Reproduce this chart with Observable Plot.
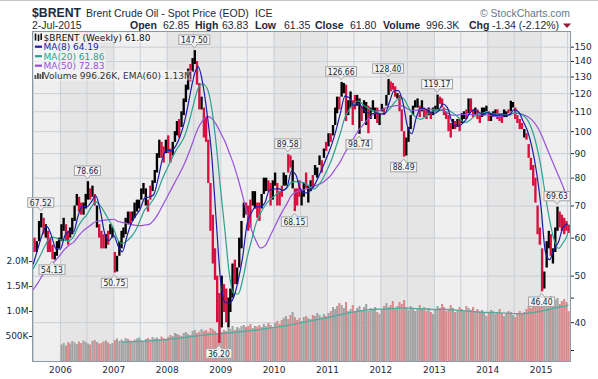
<!DOCTYPE html>
<html>
<head>
<meta charset="utf-8">
<script src="https://cdn.jsdelivr.net/npm/d3@7"></script>
<script src="https://cdn.jsdelivr.net/npm/@observablehq/plot@0.6"></script>
<style>
  html, body { margin: 0; padding: 0; background: #fff; }
  #chart { position: relative; width: 598px; height: 379px; overflow: hidden; }
  #chart > svg { position: absolute; left: 0; top: 0; }
</style>
</head>
<body>
<div id="chart"></div>
<script>
// ---------- DATA (half-month periods, Jul 2005 .. Jul 2015) ----------
const priceHigh = [
  60, 59, 65, 67.52, 66, 64, 62, 60, 58, 56, 59, 60,
  64, 66, 64, 62, 63, 66, 70, 74, 73, 71, 71, 74, 78.66, 76, 77, 74, 70, 64, 62, 61, 61, 62, 64, 63,
  56, 55, 59, 62, 63, 66, 68, 68, 68, 71, 72, 72, 76, 78, 76, 72, 77, 79, 83, 90, 96, 95, 93, 96,
  98, 92, 95, 100, 105, 106, 110, 117, 125, 135, 138, 142, 147.5, 140, 126, 118, 112, 107, 96, 78, 67, 57, 50, 46,
  50, 48, 47, 45, 47, 53, 54, 52, 60, 65, 71, 71, 70, 72, 75, 75, 71, 71, 74, 80, 80, 79, 78, 79,
  82, 78, 75, 77, 82, 81, 89.58, 89, 87, 76, 76, 79, 75, 78, 82, 77, 79, 81, 85, 84, 89, 87, 92, 95,
  99, 99, 103, 112, 118, 118, 126.66, 126, 125, 116, 121, 116, 119, 119, 117, 113, 116, 115, 113, 112, 116, 112, 112, 109,
  114, 112, 119, 128.4, 127, 126, 124, 120, 119, 111, 100, 97, 102, 108, 113, 116, 117, 113, 116, 112, 111, 112, 110, 112,
  113, 119.17, 118, 117, 112, 110, 108, 104, 106, 105, 106, 106, 109, 110, 111, 117, 117, 111, 112, 111, 108, 112, 112, 113,
  110, 109, 110, 111, 111, 109, 109, 111, 110, 111, 115.7, 115, 112, 108, 106, 104, 101, 99, 94, 88, 85, 80, 70, 63,
  57, 51, 59, 62, 61, 57, 63, 69.63, 68, 67, 66, 65, 63.83
];
const priceLow = [
  56, 56, 59, 63, 61, 60, 56, 56, 54.13, 54, 55, 57,
  59, 62, 59, 58, 60, 61, 65, 70, 68, 67, 67, 69, 72, 72, 73, 70, 63, 60, 57, 57, 57, 58, 61, 60,
  50.75, 51, 55, 57, 60, 61, 64, 64, 65, 66, 68, 69, 72, 74, 70, 68, 72, 75, 78, 82, 88, 88, 86, 90,
  90, 86, 89, 95, 98, 97, 102, 108, 115, 122, 127, 133, 138, 125, 111, 111, 97, 95, 78, 62, 53, 49, 40, 36.2,
  39, 42, 40, 39, 42, 45, 48, 48, 52, 57, 66, 67, 62, 63, 70, 69, 66, 65, 69, 74, 75, 75, 70, 72,
  77, 70, 70, 73, 77, 77, 82, 84, 76, 68.15, 70, 73, 70, 73, 76, 71, 75, 76, 81, 80, 85, 82, 88, 91,
  93, 95, 98, 103, 109, 111, 118, 120, 105, 108, 112, 103, 111, 113, 98.74, 105, 109, 103, 99, 106, 110, 106, 104, 103,
  110, 108, 113, 119, 121, 122, 118, 117, 110, 100, 88.49, 89, 95, 101, 108, 112, 112, 107, 110, 107, 106, 108, 106, 108,
  110, 111, 114, 112, 108, 106, 100, 97, 101, 101, 102, 100, 104, 106, 106, 109, 110, 107, 108, 106, 104, 107, 108, 110,
  105, 105, 107, 108, 106, 105, 104, 107, 107, 109, 110, 112, 106, 104, 101, 101, 97, 96, 88, 83, 77, 71, 61, 58,
  46.4, 47, 52, 57, 55, 53, 56, 62, 63, 62, 61, 62, 61.35
];
// u = up period (black), d = down period (red); one string per year
const priceDirByYear = [
  "duuududdduuu",
  "uudduuuudduuudududdduduu",
  "duuuuuuduuuuuuudduuuuddu",
  "dduuuduuuuduuddudddddddd",
  "udduuuduuuuddduudduuuddu",
  "uddduudduddduuduuduuudud",
  "uduuuduuduudduuduuduuudu",
  "uduuddduddduuuuuududdudu",
  "uuddddddududuududdudduuu",
  "duuuddduuduudddduddddddd",
  "duuuduuuddddd"
];
const priceDir = priceDirByYear.join("").split("");

// volume in thousands, half-month periods from Jan 2006
const volumeK = [
  330, 360, 310, 380, 350, 400, 370, 340, 390, 360, 410, 380, 350, 330, 400, 420, 380, 350, 360, 390, 410, 370, 340, 360,
  420, 450, 400, 430, 390, 460, 440, 410, 380, 430, 450, 470, 420, 400, 440, 460, 430, 480, 450, 470, 440, 490, 460, 430,
  480, 520, 500, 560, 540, 520, 500, 560, 580, 540, 520, 600, 620, 560, 590, 640, 600, 620, 580, 660, 640, 600, 560, 520,
  580, 620, 600, 660, 640, 700, 620, 680, 650, 700, 720, 680, 700, 740, 660, 700, 690, 720, 680, 740, 700, 760, 720, 680,
  760, 800, 740, 820, 860, 900, 840, 920, 980, 880, 820, 860, 800, 880, 900, 860, 840, 920, 900, 960, 920, 880, 940, 900,
  960, 1000, 1080, 1040, 1100, 1160, 1120, 1060, 1180, 1000, 1040, 1120, 980, 1060, 1100, 1020, 1080, 1140, 1000, 1060, 1020, 1080, 980, 940,
  1040, 1100, 1160, 1080, 1120, 1200, 1060, 1100, 1180, 1140, 1220, 1080, 1020, 1100, 1060, 1000, 1060, 1120, 1040, 1080, 1000, 1060, 980, 940,
  1040, 1100, 1060, 1140, 1080, 1000, 1040, 1120, 1060, 980, 1020, 1080, 1040, 1000, 1100, 1060, 1020, 1080, 1000, 1040, 980, 1020, 960, 900,
  960, 1020, 1000, 940, 980, 1040, 960, 900, 940, 1000, 980, 920, 880, 960, 1000, 940, 980, 1040, 1100, 1060, 1140, 1200, 1160, 1080,
  1200, 1280, 1160, 1240, 1300, 1180, 1220, 1260, 1140, 1200, 1240, 1180, 996
];

// moving averages, month ends Jun 2005 .. Jun 2015, then 2-Jul-2015
const ma8 = [
  53.0, 57.1, 61.2, 63.5, 60.8, 57.1, 56.9,
  60.7, 61.9, 61.8, 66.5, 70.0, 69.7, 71.4, 73.5, 68.6, 61.3, 59.3, 60.9,
  57.7, 56.2, 60.4, 64.4, 66.8, 68.9, 72.7, 73.1, 73.9, 79.8, 87.9, 91.5,
  91.3, 93.4, 98.2, 105.3, 117.1, 129.9, 136.6, 126.1, 109.0, 89.5, 66.1, 49.0,
  44.1, 43.9, 45.2, 48.9, 54.8, 64.2, 67.9, 69.7, 69.8, 71.2, 75.6, 75.9,
  76.1, 75.4, 76.7, 82.8, 81.1, 75.9, 74.5, 75.1, 77.1, 80.4, 84.4, 89.0,
  94.2, 100.5, 109.4, 118.6, 117.6, 113.2, 114.6, 111.7, 109.6, 109.1, 109.4, 108.8,
  109.2, 115.3, 121.7, 121.8, 115.1, 102.9, 99.0, 107.2, 112.0, 111.5, 109.9, 109.0,
  110.6, 114.2, 112.2, 105.2, 102.5, 103.3, 105.4, 109.2, 111.0, 109.9, 108.5, 109.6,
  108.8, 108.1, 108.5, 108.0, 108.5, 111.2, 110.0, 105.1, 100.3, 92.6, 82.6, 69.9,
  56.0, 54.1, 57.0, 58.9, 63.2, 64.2, 64.19
];
const ma20 = [
  51.9, 54.0, 56.4, 58.8, 60.3, 60.1, 59.5,
  59.4, 59.3, 60.4, 63.3, 65.5, 67.1, 69.6, 71.4, 70.1, 67.8, 65.3, 62.8,
  59.3, 58.5, 59.2, 60.4, 62.3, 65.4, 68.7, 70.3, 72.4, 75.5, 79.9, 83.7,
  87.6, 91.2, 94.3, 98.1, 105.2, 114.3, 123.2, 125.7, 123.1, 112.2, 94.7, 76.0,
  61.7, 50.8, 46.0, 45.9, 49.1, 54.5, 59.4, 64.5, 67.6, 70.1, 72.0, 73.3,
  74.7, 75.5, 76.3, 78.5, 78.7, 78.6, 78.1, 76.9, 75.9, 77.3, 79.8, 83.4,
  87.7, 92.9, 99.5, 106.9, 111.3, 114.2, 116.0, 113.9, 112.2, 110.9, 110.2, 109.0,
  109.4, 111.4, 114.7, 117.0, 117.5, 113.6, 109.3, 107.1, 106.1, 107.4, 109.8, 110.5,
  110.5, 111.4, 111.2, 109.7, 108.1, 105.9, 104.5, 105.6, 107.5, 108.7, 109.4, 109.9,
  109.0, 108.8, 108.7, 108.4, 108.3, 109.4, 109.2, 108.1, 105.8, 100.9, 93.8, 84.5,
  73.4, 65.5, 59.5, 57.1, 58.7, 61.0, 61.86
];
const ma50 = [
  46.9, 48.4, 50.2, 51.7, 52.8, 54.0, 55.4,
  56.9, 58.0, 58.8, 60.4, 61.9, 63.0, 64.0, 65.0, 65.2, 65.4, 65.6, 65.7,
  65.0, 64.7, 64.4, 64.0, 63.8, 63.7, 63.9, 64.1, 65.3, 67.4, 70.1, 73.0,
  76.1, 79.1, 82.3, 86.0, 90.8, 96.2, 101.8, 105.5, 107.6, 106.7, 103.7, 99.5,
  95.3, 90.5, 85.4, 79.7, 73.5, 67.7, 62.4, 59.2, 57.2, 57.8, 60.2, 62.9,
  65.8, 68.3, 70.9, 73.7, 74.8, 75.4, 75.8, 76.3, 77.0, 77.6, 78.4, 79.8,
  81.6, 84.0, 86.7, 90.3, 93.6, 96.9, 100.5, 103.2, 105.8, 107.9, 109.8, 110.9,
  111.9, 112.7, 113.2, 113.4, 113.2, 111.6, 110.7, 110.9, 111.2, 111.3, 111.3, 111.3,
  111.0, 110.6, 109.4, 108.3, 108.2, 108.6, 108.7, 108.6, 108.5, 108.4, 108.3, 108.4,
  107.8, 107.5, 107.7, 108.2, 108.7, 109.3, 109.2, 108.5, 107.5, 105.7, 103.0, 99.0,
  93.9, 89.5, 85.0, 80.9, 76.9, 72.8, 72.83
];
// volume EMA(60) in thousands, month ends Feb 2007 .. Jun 2015, then 2-Jul-2015
const volEmaK = [
  390, 392, 395, 398, 402, 406, 412, 418, 425, 432, 440,
  450, 460, 470, 482, 494, 505, 515, 525, 535, 545, 552, 558,
  565, 572, 580, 590, 600, 610, 620, 630, 642, 655, 668, 680,
  692, 705, 720, 738, 755, 772, 790, 808, 825, 842, 858, 875,
  895, 915, 935, 955, 975, 990, 1005, 1020, 1032, 1040, 1045, 1048,
  1050, 1055, 1062, 1068, 1070, 1068, 1062, 1058, 1055, 1050, 1045, 1040,
  1040, 1042, 1040, 1035, 1028, 1020, 1012, 1005, 998, 990, 985, 980,
  978, 975, 972, 968, 962, 958, 955, 958, 965, 975, 990, 1005,
  1025, 1045, 1065, 1085, 1100, 1115, 1130
];

const labelDates = ["2005-08-23","2005-11-08","2006-07-08","2007-01-08","2008-07-08","2008-12-23","2010-04-08","2010-05-23","2011-04-08","2011-08-08","2012-02-23","2012-06-08","2013-01-23","2015-01-08","2015-04-23"];
const labelValues = [67.52, 54.13, 78.66, 50.75, 147.50, 36.20, 89.58, 68.15, 126.66, 98.74, 128.40, 88.49, 119.17, 46.40, 69.63];
const labelSides = ["above","below","above","below","above","below","above","below","above","below","above","below","above","below","above"];

const priceTicks = [40, 50, 60, 70, 80, 90, 100, 110, 120, 130, 140, 150];
const priceMinorTicks = [35, 45];
const priceGridLevels = [40, 50, 60, 70, 80, 90, 100, 110, 120, 130, 140, 150];
const volumeTicksK = [500, 1000, 1500, 2000];
const volumeTickLabels = ["500K", "1.0M", "1.5M", "2.0M"];
const yearTicks = [2006, 2007, 2008, 2009, 2010, 2011, 2012, 2013, 2014, 2015];
const darkYears = [2006, 2008, 2010, 2012, 2014];

const legendTexts = ["$BRENT (Weekly) 61.80", "MA(8) 64.19", "MA(20) 61.86", "MA(50) 72.83", "Volume 996.26K, EMA(60) 1.13M"];

// ---------- helpers (time index only) ----------
const halfMonthDate = i => { const m = 6 + (i >> 1); return new Date(Date.UTC(2005 + Math.floor(m / 12), m % 12, i % 2 ? 23 : 8)); };
const monthEnd = k => new Date(Date.UTC(2005, 6 + k, 0)); // k=0 -> 2005-06-30
const lastDay = new Date(Date.UTC(2015, 6, 2));

const priceData = priceHigh.map((hi, i) => ({date: halfMonthDate(i), hi, lo: priceLow[i], up: priceDir[i] === "u"}));
const volumeData = volumeK.map((v, j) => ({date: halfMonthDate(j + 12), v, up: priceDir[j + 12] === "u"}));
const maSeries = arr => arr.map((v, k) => ({date: k < arr.length - 1 ? monthEnd(k) : lastDay, v}));
const emaData = volEmaK.map((v, j) => ({date: j < volEmaK.length - 1 ? monthEnd(20 + j) : lastDay, v}));
const labels = labelValues.map((v, i) => ({date: new Date(labelDates[i]), v, side: labelSides[i]}));
const halfYearLines = d3.range(0, 21).map(k => new Date(Date.UTC(2005 + Math.floor((6 + 6 * k) / 12), (6 + 6 * k) % 12, 1)));
const bands = darkYears.map(y => ({start: new Date(Date.UTC(y, 0, 1)), end: new Date(Date.UTC(y + 1, 0, 1))}));

// ---------- layout ----------
const W = 598, H = 379;
const xDomain = [new Date(Date.UTC(2005, 5, 24)), new Date(Date.UTC(2015, 6, 21))];
const common = {
  width: W, height: H, marginTop: 31, marginRight: 28, marginBottom: 18, marginLeft: 32,
  style: {background: "transparent", fontFamily: "'DejaVu Sans', Verdana, sans-serif", fontSize: "9px", color: "#1b2a3e", overflow: "visible"}
};
const gridColor = "#c9cfd7";

const base = Plot.plot({
  ...common,
  x: {type: "utc", domain: xDomain, axis: null},
  y: {type: "log", domain: [33.2, 161.7], axis: null},
  marks: [
    Plot.frame({fill: "#efefef", stroke: null}),
    Plot.rect(bands, {x1: "start", x2: "end", fill: "#e5e5e5"}),
    Plot.ruleX(halfYearLines, {stroke: gridColor}),
    Plot.ruleY(priceGridLevels, {stroke: gridColor}),
    Plot.axisY(priceTicks, {anchor: "right", tickSize: 3, tickPadding: 1, tickFormat: d => String(d), fontSize: 9, label: null}),
    Plot.axisY(priceMinorTicks, {anchor: "right", tickSize: 3, tickFormat: () => "", label: null}),
    Plot.axisX(yearTicks.map(y => new Date(Date.UTC(y, 0, 1))), {tickSize: 0, tickPadding: 5, tickFormat: d3.utcFormat("%Y"), fontSize: 9, label: null})
  ]
});

const vol = Plot.plot({
  ...common,
  x: {type: "utc", domain: xDomain, axis: null},
  y: {domain: [0, 6600], axis: null},
  marks: [
    Plot.ruleX(volumeData.filter(d => !d.up), {x: "date", y1: 0, y2: "v", stroke: "#d98a8d", strokeWidth: 2.1}),
    Plot.ruleX(volumeData.filter(d => d.up), {x: "date", y1: 0, y2: "v", stroke: "#a3a3a3", strokeWidth: 2.1}),
    Plot.line(emaData, {x: "date", y: "v", stroke: "#56aa9d", strokeWidth: 1.3, curve: "monotone-x"}),
    Plot.axisY(volumeTicksK, {anchor: "left", tickSize: 3, tickPadding: 1, tickFormat: (d, i) => volumeTickLabels[i], fontSize: 9, label: null})
  ]
});

const price = Plot.plot({
  ...common,
  x: {type: "utc", domain: xDomain, axis: null},
  y: {type: "log", domain: [33.2, 161.7], axis: null},
  marks: [
    Plot.ruleX(priceData.filter(d => d.up), {x: "date", y1: "lo", y2: "hi", stroke: "#000", strokeWidth: 2.35}),
    Plot.ruleX(priceData.filter(d => !d.up), {x: "date", y1: "lo", y2: "hi", stroke: "#d8103f", strokeWidth: 2.35}),
    Plot.line(maSeries(ma50), {x: "date", y: "v", stroke: "#9a4fdc", strokeWidth: 1.2, curve: "monotone-x"}),
    Plot.line(maSeries(ma20), {x: "date", y: "v", stroke: "#2aa190", strokeWidth: 1.2, curve: "monotone-x"}),
    Plot.line(maSeries(ma8), {x: "date", y: "v", stroke: "#1c1ca8", strokeWidth: 1.2, curve: "monotone-x"}),
    Plot.frame({stroke: "#8d98a5"})
  ]
});

const chart = document.getElementById("chart");
chart.append(base, vol, price);

// ---------- overlay: header, legend, value labels ----------
const ov = d3.select(chart).append("svg").attr("width", W).attr("height", H).style("overflow", "visible");
ov.append("line").attr("x1", 0).attr("x2", W).attr("y1", 0.5).attr("y2", 0.5).attr("stroke", "#c4c4c4");
const T = (x, y, s, o = {}) => ov.append("text").attr("x", x).attr("y", y).text(s)
  .attr("font-family", o.ff || "'Liberation Sans', Arial, sans-serif")
  .attr("font-size", o.fs || 10.5).attr("font-weight", o.fw || "normal").attr("fill", o.fill || "#1c2a3c")
  .attr("text-anchor", o.anchor || "start")
  .call(t => { if (o.len) t.attr("textLength", o.len).attr("lengthAdjust", "spacingAndGlyphs"); });

// value labels, positioned with the price plot's own scales
const sx = price.scale("x"), sy = price.scale("y");
labels.forEach(d => {
  const px = sx.apply(d.date), py = sy.apply(d.v);
  const above = d.side === "above";
  const cy = above ? py - 10.5 : py + 10.5;
  const g = ov.append("g");
  const t = g.append("text").attr("x", px).attr("y", cy + 3.1).attr("text-anchor", "middle")
    .attr("font-family", "'DejaVu Sans Condensed', 'DejaVu Sans', sans-serif").attr("font-size", 8.5)
    .attr("fill", "#1a2636").text(d.v.toFixed(2));
  const bb = t.node().getBBox();
  const w = bb.width + 4, h = 9.4, x0 = px - w / 2, y0 = cy - h / 2;
  const edge = above ? y0 + h : y0, tip = above ? edge + 3.5 : edge - 3.5;
  g.insert("polygon", "text").attr("points", `${px - 3},${edge} ${px},${tip} ${px + 3},${edge}`)
    .attr("fill", "#f5f5f5").attr("stroke", "#a2a2a2").attr("stroke-width", 1);
  g.insert("rect", "text").attr("x", x0).attr("y", y0).attr("width", w).attr("height", h)
    .attr("fill", "#f5f5f5").attr("stroke", "#a2a2a2").attr("stroke-width", 1);
  g.insert("line", "text").attr("x1", px - 2.3).attr("x2", px + 2.3).attr("y1", edge).attr("y2", edge)
    .attr("stroke", "#f5f5f5").attr("stroke-width", 1.2);
});

T(32, 17, "$BRENT", {fs: 13.5, fw: "bold", len: 49});
T(86, 17.3, "Brent Crude Oil - Spot Price (EOD)");
T(255, 17.3, "ICE");
T(480, 17, "© StockCharts.com", {fill: "#66778a", fs: 10.5, len: 90});
T(32, 28.6, "2-Jul-2015");
const hdrItems = [
  [130, "Open", true], [163, "62.85"], [195, "High", true], [222, "63.83"], [255, "Low", true], [284, "61.35"],
  [315, "Close", true], [350, "61.80"], [383, "Volume", true], [426, "996.3K"], [469, "Chg", true], [492, "-1.34 (-2.12%)"]
];
hdrItems.forEach(([x, s, b]) => T(x, 28.6, s, b ? {fw: "bold", fs: 10.5} : {}));
ov.append("polygon").attr("points", "563,23.5 571,23.5 567,28").attr("fill", "#9b1535");

// legend
const legendColors = ["#111111", "#1c1ca8", "#2aa190", "#9a4fdc", "#333333"];
const legendY = [40.5, 50, 59.5, 69, 78.5];
legendTexts.forEach((s, i) => {
  const t = T(43.5, legendY[i], s, {ff: "'DejaVu Sans', Verdana, sans-serif", fs: 9, fill: legendColors[i]});
  const bb = t.node().getBBox();
  ov.insert("rect", () => t.node()).attr("x", 33).attr("y", bb.y).attr("width", bb.x + bb.width - 33 + 1).attr("height", bb.height)
    .attr("fill", "#ffffff").attr("fill-opacity", 0.45);
  if (i >= 1 && i <= 3) ov.append("line").attr("x1", 35).attr("x2", 42).attr("y1", legendY[i] - 3.3).attr("y2", legendY[i] - 3.3)
    .attr("stroke", legendColors[i]).attr("stroke-width", 2.2);
});
[[35.5, 33.5, 40.5], [38.5, 34.5, 41], [41.2, 33.5, 40]].forEach(([x, a, b]) => {
  ov.append("line").attr("x1", x).attr("x2", x).attr("y1", a).attr("y2", b).attr("stroke", "#111").attr("stroke-width", 1.6);
});
[[34.5, 75], [37, 73], [39.5, 74], [42, 72]].forEach(([x, y]) => {
  ov.append("rect").attr("x", x).attr("y", y).attr("width", 1.8).attr("height", 79 - y).attr("fill", "#555");
});
</script>
</body>
</html>
